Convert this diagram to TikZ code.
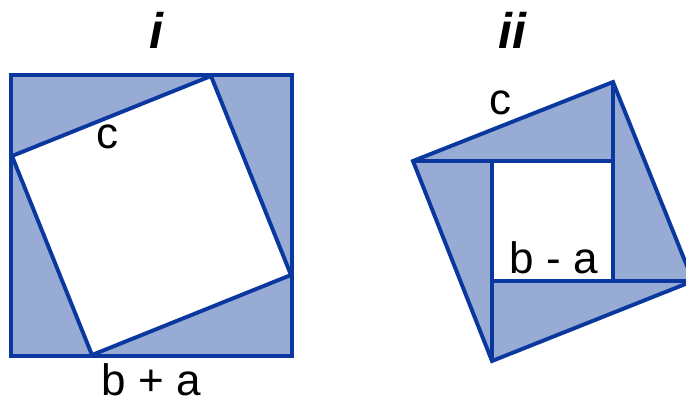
\documentclass[tikz,border=0pt]{standalone}
\usepackage{fontspec}
\setmainfont{Liberation Sans}
\definecolor{trifill}{RGB}{151,171,212}
\definecolor{edgeblue}{RGB}{10,56,158}
\begin{document}
\begin{tikzpicture}[x=1pt,y=-1pt,
  edgeline/.style={draw=edgeblue,line width=3.9pt,line join=miter},
  lbl/.style={font=\fontsize{44}{50}\selectfont,inner sep=0pt,anchor=base},
  ttl/.style={font=\fontsize{50}{56}\selectfont\bfseries\itshape,inner sep=0pt,anchor=base}]
\useasboundingbox (0,0) rectangle (686,399);
\clip (0,0) rectangle (686,399);
% ---------- figure i ----------
\coordinate (o1) at (11,75);
\coordinate (o2) at (292,75);
\coordinate (o3) at (292,356);
\coordinate (o4) at (11,356);
\coordinate (p1) at (211,76);
\coordinate (p2) at (291,275);
\coordinate (p3) at (92,355);
\coordinate (p4) at (12,156);
\fill[trifill] (o1) rectangle (o3);
\fill[white] (p1)--(p2)--(p3)--(p4)--cycle;
\draw[edgeline] (p1)--(p2)--(p3)--(p4)--cycle;
\draw[edgeline] (o1) rectangle (o3);
\node[ttl] (ti) at (156,48) {i};
\node[lbl] (ci) at (107,148) {c};
\node[lbl] (bpa) at (151,395) {b + a};
% ---------- figure ii ----------
\coordinate (L) at (413,161);
\coordinate (T) at (613,82);
\coordinate (R) at (693,281);
\coordinate (B) at (492,361);
\coordinate (q1) at (492,161);
\coordinate (q2) at (613,161);
\coordinate (q3) at (613,281);
\coordinate (q4) at (492,281);
\fill[trifill] (L)--(T)--(R)--(B)--cycle;
\fill[white] (q1) rectangle (q3);
\draw[edgeline] (L)--(q2);
\draw[edgeline] (T)--(q3);
\draw[edgeline] (R)--(q4);
\draw[edgeline] (B)--(q1);
\draw[edgeline] (L)--(T)--(R)--(B)--cycle;
\node[ttl] (tii) at (512,48) {ii};
\node[lbl] (cii) at (500,114) {c};
\node[lbl] (bma) at (554,273) {b - a};
\end{tikzpicture}
\end{document}
